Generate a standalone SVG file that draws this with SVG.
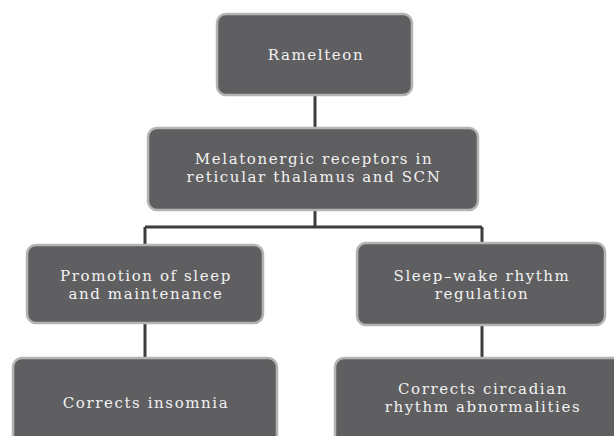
<svg xmlns="http://www.w3.org/2000/svg" width="614" height="436" viewBox="0 0 614 436">
<style>
.box{fill:#5f5f61;stroke:#b4b4b4;stroke-width:2.5}
.t{font-family:"DejaVu Serif","Liberation Serif",serif;font-size:15px;fill:#f2f2f2;text-anchor:middle;letter-spacing:1.6px}
.c{stroke:#3c3c3c;stroke-width:3;fill:none}
</style>
<rect width="614" height="436" fill="#ffffff"/>
<g id="connectors">
<path class="c" d="M315 95V128"/>
<path class="c" d="M315 210V227M145 227H482M145 227V245M482 227V243"/>
<path class="c" d="M145 323V358"/>
<path class="c" d="M482 325V358"/>
</g>
<g id="ramelteon">
<rect class="box" x="217" y="14" width="195" height="81" rx="9"/>
<text class="t" x="316" y="60">Ramelteon</text>
</g>
<g id="receptors">
<rect class="box" x="148" y="128" width="330" height="82" rx="9"/>
<text class="t" x="314" y="164">Melatonergic receptors in</text>
<text class="t" x="314" y="182">reticular thalamus and SCN</text>
</g>
<g id="promotion">
<rect class="box" x="27" y="245" width="236" height="78" rx="9"/>
<text class="t" x="146" y="281">Promotion of sleep</text>
<text class="t" x="146" y="299">and maintenance</text>
</g>
<g id="sleepwake">
<rect class="box" x="357" y="243" width="248" height="82" rx="9"/>
<text class="t" x="482" y="281">Sleep–wake rhythm</text>
<text class="t" x="482" y="299">regulation</text>
</g>
<g id="insomnia">
<rect class="box" x="13" y="358" width="264" height="90" rx="9"/>
<text class="t" x="146" y="408">Corrects insomnia</text>
</g>
<g id="circadian">
<rect class="box" x="335" y="358" width="290" height="90" rx="9"/>
<text class="t" x="483" y="394">Corrects circadian</text>
<text class="t" x="483" y="412">rhythm abnormalities</text>
</g>
</svg>
